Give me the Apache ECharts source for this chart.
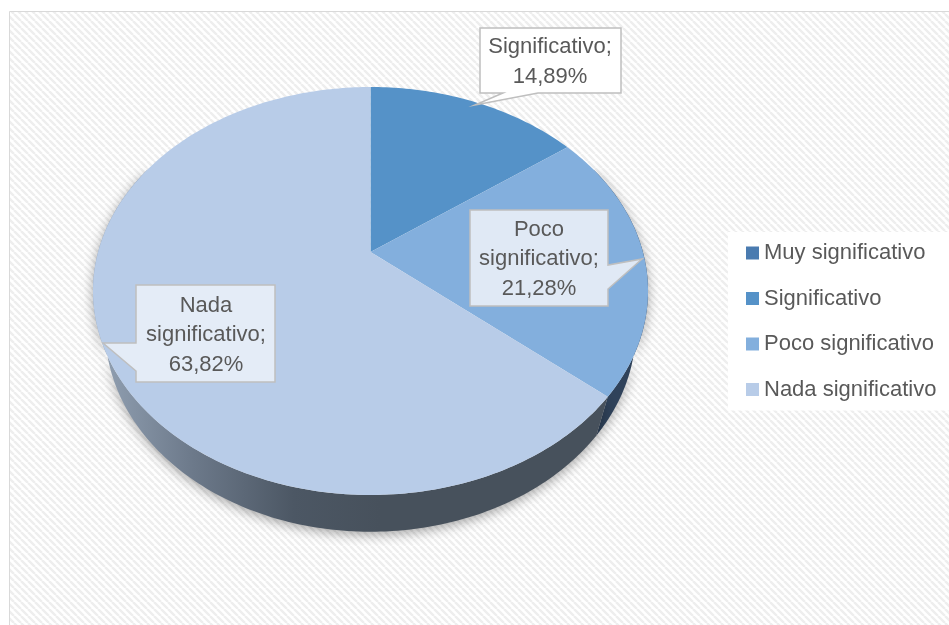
<!DOCTYPE html>
<html>
<head>
<meta charset="utf-8">
<script src="https://cdn.jsdelivr.net/npm/echarts@6/dist/echarts.min.js"></script>
<style>
  html, body { margin: 0; padding: 0; background: #fff; }
  #chart { width: 949px; height: 625px; }
</style>
</head>
<body>
<div id="chart"></div>
<script>
// data
var categories = ['Muy significativo', 'Significativo', 'Poco significativo', 'Nada significativo'];
var percentages = [0, 14.89, 21.28, 63.82];

// styles
var sliceColors = ['#4a7bb0', '#5592c8', '#83afdd', '#b8cce8'];
var textColor = '#595959';
var fontFamily = '"Liberation Sans", Arial, sans-serif';

// callout boxes (layout only): box polygon with tail, and text centre
var callouts = [
  null,
  { pts: [[480, 28], [621, 28], [621, 93], [538, 93], [475, 105], [503, 93], [480, 93]], cx: 550, cy: 62, fill: '#ffffff' },
  { pts: [[470, 210], [608, 210], [608, 265], [642, 259], [608, 289], [608, 306], [470, 306]], cx: 539, cy: 259, fill: '#e0e9f5' },
  { pts: [[136, 285], [275, 285], [275, 382], [136, 382], [136, 371], [103, 343], [136, 343]], cx: 206, cy: 335, fill: '#e4ecf7' }
];

// 3D pie geometry (perspective projected disc)
var geo = { cx: 370.5, cy: 252, R: 272.4, sinA: 0.7214, cosA: 0.6925, D: 986.6, H: 61 };

var total = percentages.reduce(function (a, b) { return a + b; }, 0);
var startFrac = [];
(function () {
  var acc = 0;
  percentages.forEach(function (v) { startFrac.push(acc / total); acc += v; });
})();

function project(theta, h) {
  var X = geo.R * Math.sin(theta);
  var Zd = -geo.R * Math.cos(theta);
  var depth = geo.D - Zd * geo.cosA + h * geo.sinA;
  var f = geo.D / depth;
  return [geo.cx + X * f, geo.cy + (Zd * geo.sinA + h * geo.cosA) * f];
}

function arcPoints(t1, t2, h) {
  var pts = [];
  var n = Math.max(2, Math.ceil(Math.abs(t2 - t1) / (Math.PI / 180)));
  for (var i = 0; i <= n; i++) {
    pts.push(project(t1 + (t2 - t1) * i / n, h));
  }
  return pts;
}

function sliceAngles(idx, value) {
  var t1 = startFrac[idx] * Math.PI * 2;
  return [t1, t1 + value / total * Math.PI * 2];
}

function formatLabel(name, value) {
  return name.split(' ').join('\n') + ';\n' + value.toFixed(2).replace('.', ',') + '%';
}

var wallFills = [
  '#2f425a',
  '#2f425a',
  '#2f425a',
  new echarts.graphic.LinearGradient(93, 0, 380, 0, [
    { offset: 0, color: '#94a3b5' },
    { offset: 0.35, color: '#6c798a' },
    { offset: 0.7, color: '#4c5764' },
    { offset: 1, color: '#47515c' }
  ], true)
];

// background hatch
var hatch = document.createElement('canvas');
hatch.width = 7;
hatch.height = 7;
var hg = hatch.getContext('2d');
hg.fillStyle = '#ffffff';
hg.fillRect(0, 0, 7, 7);
hg.strokeStyle = '#eeeeee';
hg.lineWidth = 2.4;
hg.beginPath();
[-7, 0, 7].forEach(function (x0) { hg.moveTo(x0, 0); hg.lineTo(x0 + 7, 7); });
hg.stroke();

var chart = echarts.init(document.getElementById('chart'), null, { renderer: 'canvas' });

var seriesData = categories.map(function (c, i) {
  return { name: c, value: percentages[i], itemStyle: { color: sliceColors[i] } };
});

var option = {
  animation: false,
  graphic: [{
    type: 'rect',
    z: -10,
    silent: true,
    shape: { x: 9.5, y: 11.5, width: 960, height: 640 },
    style: { fill: { image: hatch, repeat: 'repeat' }, stroke: '#d9d9d9', lineWidth: 1 }
  }],
  legend: {
    orient: 'vertical',
    left: 728,
    top: 232,
    padding: [10, 20, 10, 18],
    backgroundColor: '#ffffff',
    icon: 'rect',
    itemWidth: 13,
    itemHeight: 13,
    itemGap: 23.5,
    data: categories,
    selectedMode: false,
    textStyle: { fontSize: 22, lineHeight: 22, color: textColor, fontFamily: fontFamily }
  },
  series: [
    {
      // side walls
      type: 'custom',
      name: 'walls',
      coordinateSystem: 'none',
      z: 3,
      silent: true,
      data: percentages,
      renderItem: function (params, api) {
        var v = api.value(0);
        if (!v) return null;
        var a = sliceAngles(params.dataIndex, v);
        var t1 = Math.max(a[0], Math.PI * 0.35);
        var t2 = Math.min(a[1], Math.PI * 1.65);
        if (t2 <= t1) return null;
        var pts = arcPoints(t1, t2, 0).concat(arcPoints(t2, t1, geo.H));
        return {
          type: 'polygon',
          shape: { points: pts },
          style: {
            fill: wallFills[params.dataIndex],
            shadowBlur: 12,
            shadowColor: 'rgba(0,0,0,0.35)',
            shadowOffsetY: 3
          }
        };
      }
    },
    {
      // top faces
      type: 'custom',
      name: 'tops',
      coordinateSystem: 'none',
      z: 4,
      silent: true,
      data: percentages,
      renderItem: function (params, api) {
        var v = api.value(0);
        if (!v) return null;
        var a = sliceAngles(params.dataIndex, v);
        var pts = [[geo.cx, geo.cy]].concat(arcPoints(a[0], a[1], 0));
        return {
          type: 'polygon',
          shape: { points: pts },
          style: { fill: sliceColors[params.dataIndex] }
        };
      }
    },
    {
      // data labels in callouts
      type: 'custom',
      name: 'labels',
      coordinateSystem: 'none',
      z: 5,
      silent: true,
      data: percentages,
      renderItem: function (params, api) {
        var v = api.value(0);
        var c = callouts[params.dataIndex];
        if (!v || !c) return null;
        return {
          type: 'group',
          children: [
            {
              type: 'polygon',
              shape: { points: c.pts },
              style: { fill: c.fill, stroke: '#bfbfbf', lineWidth: 1.5 }
            },
            {
              type: 'text',
              style: {
                text: formatLabel(categories[params.dataIndex], v),
                x: c.cx,
                y: c.cy,
                align: 'center',
                verticalAlign: 'middle',
                fontSize: 22,
                lineHeight: 29.5,
                fontFamily: fontFamily,
                fill: textColor
              }
            }
          ]
        };
      }
    },
    {
      // legend source only
      type: 'pie',
      name: 'legend',
      radius: [0, 0],
      center: [-100, -100],
      silent: true,
      label: { show: false },
      labelLine: { show: false },
      data: seriesData
    }
  ]
};

chart.setOption(option);
</script>
</body>
</html>
